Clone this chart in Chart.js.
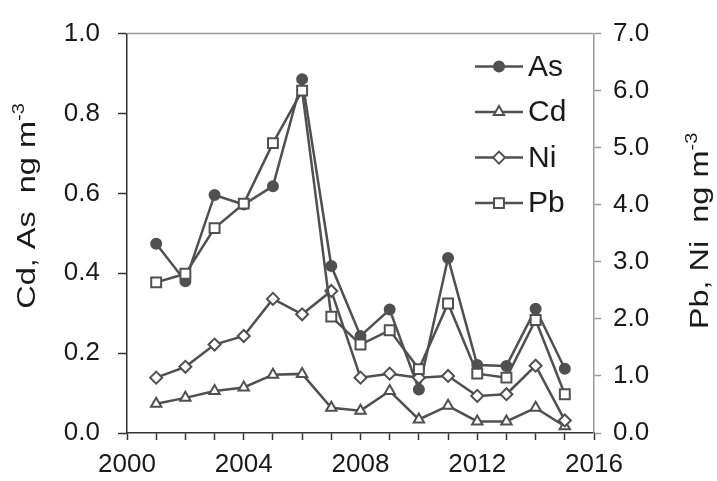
<!DOCTYPE html>
<html>
<head>
<meta charset="utf-8">
<script src="https://cdn.jsdelivr.net/npm/chart.js@4"></script>
<style>
html,body{margin:0;padding:0;background:#fff;}
#wrap{width:717px;height:481px;position:relative;}
</style>
</head>
<body>
<div id="wrap"><canvas id="c" width="717" height="481"></canvas></div>
<script>
const years = [2001, 2002, 2003, 2004, 2005, 2006, 2007, 2008, 2009, 2010, 2011, 2012, 2013, 2014, 2015];
const asValues = [0.474, 0.380, 0.596, 0.572, 0.618, 0.886, 0.418, 0.243, 0.309, 0.109, 0.438, 0.170, 0.168, 0.311, 0.161];
const cdValues = [0.073, 0.088, 0.105, 0.114, 0.146, 0.148, 0.063, 0.056, 0.105, 0.034, 0.068, 0.029, 0.029, 0.063, 0.017];
const niValues = [0.97, 1.16, 1.55, 1.70, 2.35, 2.08, 2.49, 0.97, 1.04, 0.97, 1.00, 0.65, 0.68, 1.18, 0.22];
const pbValues = [2.64, 2.79, 3.59, 4.02, 5.08, 6.00, 2.04, 1.55, 1.80, 1.12, 2.27, 1.04, 0.97, 1.98, 0.68];
const seriesNames = ['As', 'Cd', 'Ni', 'Pb'];
const leftTitle = ['Cd, As  ng m', '-3'];
const rightTitle = ['Pb, Ni  ng m', '-3'];

const FONT = '"Liberation Sans", Arial, sans-serif';
const LINE = '#505050';

function pts(vals) { return years.map((y, i) => ({x: y, y: vals[i]})); }

function ds(label, vals, style, radius, fill, axis, order) {
  return {
    label: label, data: pts(vals), yAxisID: axis, order: order,
    borderColor: LINE, borderWidth: 2.5, backgroundColor: fill,
    pointStyle: style, pointRadius: radius, pointHoverRadius: radius,
    pointBorderColor: LINE, pointBackgroundColor: fill, pointBorderWidth: 2,
    tension: 0, fill: false
  };
}

const titlesPlugin = {
  id: 'titles',
  afterDraw(chart) {
    const ctx = chart.ctx;
    const SX = 1.25;
    function draw(cx, cy, parts) {
      ctx.save();
      ctx.translate(cx, cy);
      ctx.rotate(-Math.PI / 2);
      ctx.scale(SX, 1);
      ctx.fillStyle = '#1a1a1a';
      ctx.textBaseline = 'alphabetic';
      ctx.textAlign = 'left';
      ctx.font = '26px ' + FONT;
      const w1 = ctx.measureText(parts[0]).width;
      ctx.font = '16px ' + FONT;
      const w2 = ctx.measureText(parts[1]).width;
      const start = -(w1 + w2) / 2;
      ctx.font = '26px ' + FONT;
      ctx.fillText(parts[0], start, 0);
      ctx.font = '16px ' + FONT;
      ctx.fillText(parts[1], start + w1, -11);
      ctx.restore();
    }
    draw(35, 206, leftTitle);
    draw(708, 231, rightTitle);
  }
};

const framePlugin = {
  id: 'frame',
  beforeDatasetsDraw(chart) {
    const a = chart.chartArea, ctx = chart.ctx;
    ctx.save();
    ctx.strokeStyle = '#9a9a9a';
    ctx.lineWidth = 1.5;
    ctx.beginPath();
    ctx.moveTo(a.left, a.top);
    ctx.lineTo(a.right, a.top);
    ctx.stroke();
    ctx.restore();
  }
};

const legendPlugin = {
  id: 'customLegend',
  afterDraw(chart) {
    const a = chart.chartArea, ctx = chart.ctx;
    const x0 = a.right - 119, x1 = a.right - 71, tx = a.right - 66;
    chart.data.datasets.forEach((d, i) => {
      const y = a.top + 33 + i * 45.5;
      ctx.save();
      ctx.strokeStyle = d.borderColor;
      ctx.lineWidth = d.borderWidth;
      ctx.beginPath();
      ctx.moveTo(x0, y);
      ctx.lineTo(x1, y);
      ctx.stroke();
      ctx.fillStyle = d.pointBackgroundColor;
      ctx.strokeStyle = d.pointBorderColor;
      ctx.lineWidth = d.pointBorderWidth;
      Chart.helpers.drawPoint(ctx, {pointStyle: d.pointStyle, radius: d.pointRadius, rotation: 0, borderWidth: d.pointBorderWidth}, (x0 + x1) / 2, y);
      ctx.fillStyle = '#1a1a1a';
      ctx.font = '30px ' + FONT;
      ctx.textBaseline = 'middle';
      ctx.textAlign = 'left';
      ctx.fillText(d.label, tx, y + 1);
      ctx.restore();
    });
  }
};

new Chart(document.getElementById('c'), {
  type: 'line',
  data: {
    datasets: [
      ds(seriesNames[0], asValues, 'circle', 5, LINE, 'y', 4),
      ds(seriesNames[1], cdValues, 'triangle', 6, '#ffffff', 'y', 3),
      ds(seriesNames[2], niValues, 'rectRot', 6, '#ffffff', 'y2', 2),
      ds(seriesNames[3], pbValues, 'rect', 7, '#ffffff', 'y2', 1)
    ]
  },
  options: {
    responsive: false,
    animation: false,
    devicePixelRatio: 1,
    layout: {padding: {top: 22, left: 0, right: 0, bottom: 0}},
    plugins: {legend: {display: false}, tooltip: {enabled: false}},
    scales: {
      x: {
        type: 'linear', min: 2000, max: 2016,
        afterFit(s) { s.height = 48; },
        ticks: {
          stepSize: 1, autoSkip: false, maxRotation: 0, padding: 9,
          color: '#1a1a1a', font: {family: FONT, size: 26},
          callback: v => (v % 4 === 0 ? String(v) : '')
        },
        grid: {drawOnChartArea: false, drawTicks: true, tickLength: 7, tickWidth: 1.5, tickColor: '#333'},
        border: {display: true, color: '#333', width: 1.5}
      },
      y: {
        position: 'left', min: 0, max: 1,
        afterFit(s) { s.width = 127; },
        ticks: {
          stepSize: 0.2, padding: 18, color: '#1a1a1a', font: {family: FONT, size: 26},
          callback: v => v.toFixed(1)
        },
        grid: {drawOnChartArea: false, drawTicks: true, tickLength: 9, tickWidth: 1.5, tickColor: '#333'},
        border: {display: true, color: '#333', width: 1.5}
      },
      y2: {
        position: 'right', min: 0, max: 7,
        afterFit(s) { s.width = 123; },
        ticks: {
          stepSize: 1, padding: 12, color: '#1a1a1a', font: {family: FONT, size: 26},
          callback: v => v.toFixed(1)
        },
        grid: {drawOnChartArea: false, drawTicks: true, tickLength: 7, tickWidth: 1.5, tickColor: '#9a9a9a'},
        border: {display: true, color: '#9a9a9a', width: 1.5}
      }
    }
  },
  plugins: [framePlugin, titlesPlugin, legendPlugin]
});
</script>
</body>
</html>
